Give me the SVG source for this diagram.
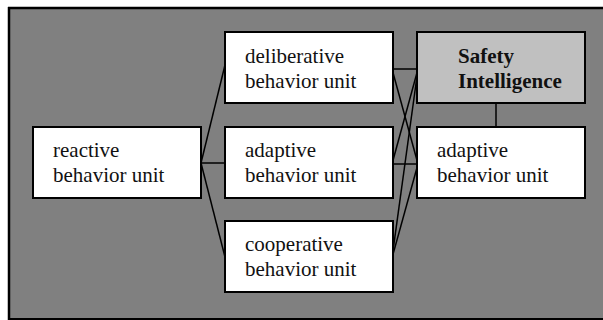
<svg xmlns="http://www.w3.org/2000/svg" width="603" height="320" viewBox="0 0 603 320">
<style>
.box{fill:#ffffff;stroke:#000000;stroke-width:2}
.si{fill:#c0c0c0;stroke:#000000;stroke-width:2}
text{font-family:'Liberation Serif','Times New Roman',Times,serif;font-size:21px;fill:#111111}
.b{font-weight:bold}
.c line{stroke:#000000;stroke-width:1.5}
</style>
<rect x="0" y="0" width="603" height="320" fill="#ffffff"/>
<rect x="9" y="8" width="594" height="310" fill="#808080"/>
<line x1="8" y1="319" x2="603" y2="319" stroke="#000000" stroke-width="2"/>
<line x1="9" y1="7" x2="9" y2="320" stroke="#000000" stroke-width="2.5"/>
<line x1="8" y1="8" x2="603" y2="8" stroke="#000000" stroke-width="2.5"/>
<g class="c" id="connectors">
<line x1="201" y1="163" x2="225" y2="65"/>
<line x1="201" y1="163" x2="227" y2="163"/>
<line x1="201" y1="163" x2="225" y2="257"/>
<line x1="392" y1="69" x2="418" y2="69"/>
<line x1="392" y1="69" x2="418" y2="164"/>
<line x1="392" y1="164" x2="418" y2="69"/>
<line x1="392" y1="164" x2="418" y2="164"/>
<line x1="392" y1="258" x2="418" y2="69"/>
<line x1="392" y1="258" x2="418" y2="164"/>
<line x1="496" y1="102" x2="496" y2="128"/>
</g>
<g id="reactive" font-family="'Liberation Serif', serif">
<rect class="box" x="33" y="127" width="168" height="71"/>
<text x="53" y="157">reactive</text>
<text x="53" y="182">behavior unit</text>
</g>
<g id="deliberative" font-family="'Liberation Serif', serif">
<rect class="box" x="225" y="32" width="168" height="71"/>
<text x="245" y="63">deliberative</text>
<text x="245" y="88">behavior unit</text>
</g>
<g id="adaptive-mid" font-family="'Liberation Serif', serif">
<rect class="box" x="225" y="127" width="168" height="71"/>
<text x="245" y="157">adaptive</text>
<text x="245" y="182">behavior unit</text>
</g>
<g id="cooperative" font-family="'Liberation Serif', serif">
<rect class="box" x="225" y="221" width="168" height="71"/>
<text x="245" y="251">cooperative</text>
<text x="245" y="276">behavior unit</text>
</g>
<g id="safety" font-family="'Liberation Serif', serif">
<rect class="si" x="417" y="32" width="168" height="71"/>
<text class="b" x="458" y="63">Safety</text>
<text class="b" x="458" y="88">Intelligence</text>
</g>
<g id="adaptive-right" font-family="'Liberation Serif', serif">
<rect class="box" x="417" y="127" width="168" height="71"/>
<text x="437" y="157">adaptive</text>
<text x="437" y="182">behavior unit</text>
</g>
</svg>
